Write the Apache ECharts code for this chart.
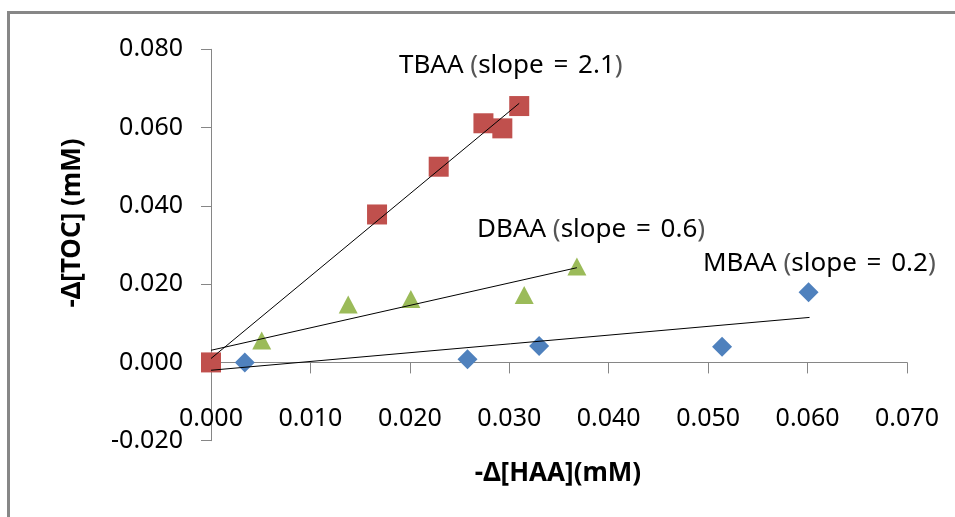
<!DOCTYPE html>
<html>
<head>
<meta charset="utf-8">
<script src="https://cdn.jsdelivr.net/npm/echarts@6/dist/echarts.min.js"></script>
<style>
  html, body { margin: 0; padding: 0; background: #fff; }
  #chart { width: 955px; height: 517px; }
</style>
</head>
<body>
<div id="chart"></div>
<script>
// Axis ranges and ticks
const xTicks = { min: 0, max: 0.07, interval: 0.01 };
const yTicks = { min: -0.02, max: 0.08, interval: 0.02 };

// MBAA (monobromoacetic acid)
const mbaaX = [0.0034, 0.0258, 0.0330, 0.0514, 0.0601];
const mbaaY = [0.0000, 0.0008, 0.0042, 0.0040, 0.0179];
// DBAA (dibromoacetic acid)
const dbaaX = [0.0051, 0.0138, 0.0201, 0.0315, 0.0368];
const dbaaY = [0.0056, 0.0148, 0.0162, 0.0172, 0.0245];
// TBAA (tribromoacetic acid)
const tbaaX = [0.0000, 0.0167, 0.0229, 0.0274, 0.0293, 0.0310];
const tbaaY = [0.0000, 0.0378, 0.0500, 0.0611, 0.0598, 0.0655];

// Linear trend line end points [x, y]
const mbaaTrend = [[0, -0.0020], [0.0602, 0.0115]];
const dbaaTrend = [[0, 0.0031], [0.0368, 0.0242]];
const tbaaTrend = [[0, 0.0010], [0.0310, 0.0662]];

// Annotation texts: name and slope
const labelNames = ['TBAA', 'DBAA', 'MBAA'];
const labelSlopes = ['2.1', '0.6', '0.2'];
const xTitle = '-\u0394[HAA](mM)';
const yTitle = '-\u0394[TOC] (mM)';

const zip = (xs, ys) => xs.map((x, i) => [x, ys[i]]);
const FONT = '"Noto Sans", "DejaVu Sans", sans-serif';
const AXIS_GRAY = '#868686';

const chart = echarts.init(document.getElementById('chart'), null, { renderer: 'canvas' });

const scatter = (name, data, symbol, size, color) => ({
  name, type: 'scatter', data, symbol, symbolSize: size,
  itemStyle: { color, opacity: 1 }, z: 3, silent: true
});
const trend = (name, data) => ({
  name, type: 'line', data, symbol: 'none', z: 5, silent: true,
  lineStyle: { color: '#000', width: 1 }
});
// Slope annotation with a little extra room around the equals sign
const slopeText = (i, x, y) => ({
  type: 'text', x, y, silent: true,
  style: {
    text: labelNames[i] + ' {p|(}slope {eq|=} ' + labelSlopes[i] + '{p|)}',
    font: '26px ' + FONT, fill: '#000', align: 'left', verticalAlign: 'middle',
    rich: {
      eq: { font: '26px ' + FONT, fill: '#000', padding: [0, 3] },
      p: { font: '26px ' + FONT, fill: '#555' }
    }
  }
});

chart.setOption({
  animation: false,
  backgroundColor: '#fff',
  grid: { left: 211, right: 48, top: 49.3, bottom: 76.3, containLabel: false },
  xAxis: {
    type: 'value', min: xTicks.min, max: xTicks.max, interval: xTicks.interval,
    axisLine: { show: true, onZero: true, lineStyle: { color: AXIS_GRAY, width: 1 } },
    axisTick: { show: true, inside: false, length: 11, lineStyle: { color: AXIS_GRAY } },
    splitLine: { show: false },
    axisLabel: {
      margin: -34, color: '#000', fontFamily: FONT, fontSize: 25,
      formatter: v => v.toFixed(3)
    }
  },
  yAxis: {
    type: 'value', min: yTicks.min, max: yTicks.max, interval: yTicks.interval,
    axisLine: { show: true, onZero: false, lineStyle: { color: AXIS_GRAY, width: 1 } },
    axisTick: { show: true, inside: false, length: 10, lineStyle: { color: AXIS_GRAY } },
    splitLine: { show: false },
    axisLabel: {
      margin: 28, color: '#000', fontFamily: FONT, fontSize: 25,
      formatter: v => v.toFixed(3)
    }
  },
  graphic: [
    {
      type: 'rect', silent: true, z: 0,
      shape: { x: 8.5, y: 12.5, width: 1200, height: 800 },
      style: { fill: 'none', stroke: '#878787', lineWidth: 3 }
    },
    {
      type: 'text', x: 558, y: 474, silent: true,
      style: { text: xTitle, font: 'bold 26px ' + FONT, fill: '#000', align: 'center', verticalAlign: 'middle' }
    },
    {
      type: 'text', x: 73, y: 223, rotation: Math.PI / 2, silent: true,
      style: { text: yTitle, font: 'bold 26px ' + FONT, fill: '#000', align: 'center', verticalAlign: 'middle' }
    },
    slopeText(0, 399, 66),
    slopeText(1, 477, 230),
    slopeText(2, 703, 264)
  ],
  series: [
    scatter('MBAA', zip(mbaaX, mbaaY), 'diamond', [20, 20], '#4F81BD'),
    scatter('DBAA', zip(dbaaX, dbaaY), 'triangle', [19, 18], '#9BBB59'),
    scatter('TBAA', zip(tbaaX, tbaaY), 'rect', [20, 20], '#C0504D'),
    trend('MBAA trend', mbaaTrend),
    trend('DBAA trend', dbaaTrend),
    trend('TBAA trend', tbaaTrend)
  ]
});
</script>
</body>
</html>
